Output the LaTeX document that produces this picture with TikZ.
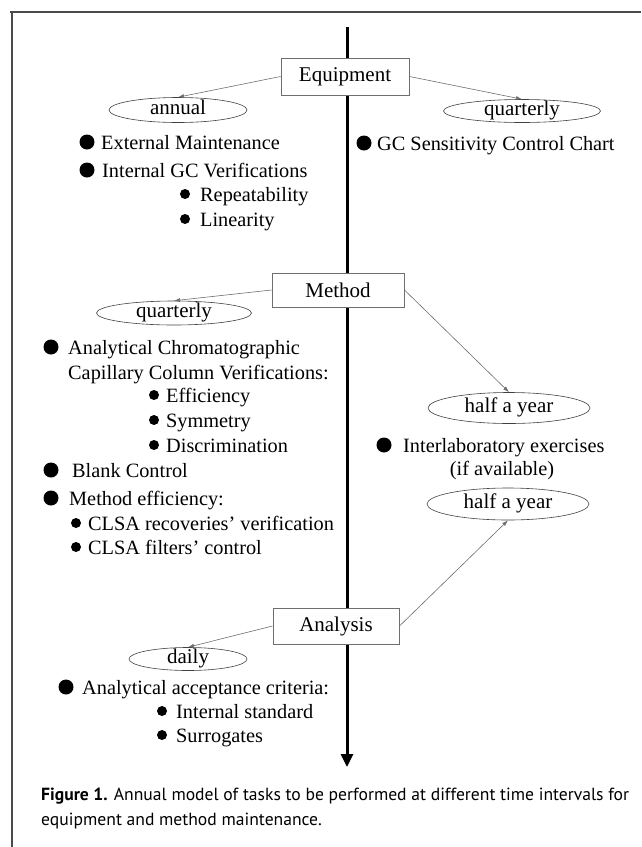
\documentclass[tikz,border=0pt]{standalone}
\usepackage{fontspec}
\setmainfont{Liberation Serif}
\newfontfamily\capfont{PT Sans}
\usetikzlibrary{arrows.meta,shapes.geometric}
\definecolor{frameGray}{HTML}{4A4A4A}
\definecolor{lineGray}{HTML}{6E6E6E}
\tikzset{
  stagebox/.style={draw=lineGray, line width=1pt, fill=white, inner sep=0pt,
    minimum height=35pt, font=\fontsize{21}{25}\selectfont},
  period/.style={ellipse, draw=black!75, line width=0.6pt, inner sep=0pt,
    text height=12pt, text depth=4pt, font=\fontsize{21}{25}\selectfont},
  conn/.style={draw=lineGray, line width=0.6pt, -{Latex[length=6pt,width=4pt]}},
  item/.style={anchor=base west, inner sep=0pt, font=\fontsize{20.3}{24}\selectfont},
  capline/.style={anchor=base west, inner sep=0pt, font=\capfont\fontsize{17.6}{21}\selectfont},
}

\begin{document}
\begin{tikzpicture}[x=1pt,y=-1pt]
  \useasboundingbox (0,0) rectangle (641,847);
  % frame
  \draw[frameGray, line width=2pt] (10,12) -- (641,12);
  \draw[frameGray, line width=2pt] (12,12) -- (12,847);

  % time axis
  \coordinate (axisTop) at (347,27);
  \coordinate (axisEnd) at (347,767);
  \draw[line width=3pt, -{Triangle[length=13pt,width=12pt]}] (axisTop) -- (axisEnd);

  % stages
  \node[stagebox, minimum width=128pt, minimum height=37pt] (equip) at (345,76.5) {Equipment};
  \node[stagebox, minimum width=132pt, minimum height=34pt] (method) at (338,290) {Method};
  \node[stagebox, minimum width=126pt, minimum height=36pt] (analysis) at (336,626) {Analysis};

  % periods
  \node[period, minimum width=138pt, minimum height=25pt] (annual) at (178,110) {annual};
  \node[period, minimum width=157pt, minimum height=23pt] (quartA) at (522,111) {quarterly};
  \node[period, minimum width=155pt, minimum height=24pt] (quartB) at (174,313) {quarterly};
  \node[period, minimum width=162pt, minimum height=31pt] (halfA) at (509,408) {half a year};
  \node[period, minimum width=162pt, minimum height=32pt] (halfB) at (508,504) {half a year};
  \node[period, minimum width=118pt, minimum height=23pt] (daily) at (188,659) {daily};

  \draw[conn] (equip.west) -- (annual.north);
  \draw[conn] (equip.east) -- (quartA.north);
  \draw[conn] (method.west) -- (quartB.north);
  \draw[conn] (method.east) -- (halfA.north);
  \draw[conn] (analysis.east) -- (halfB.south);
  \draw[conn] (analysis.west) -- (daily.north);

  % equipment tasks
  \fill (87,142) circle (7.5);
  \node[item] (extMaint) at (101,149) {External Maintenance};
  \fill (87,170) circle (7.5);
  \node[item] (intGC) at (102,177) {Internal GC Verifications};
  \fill (185,194) circle (5);
  \node[item] (repeat) at (200,201) {Repeatability};
  \fill (185,219) circle (5);
  \node[item] (linear) at (200,226) {Linearity};
  \fill (364,143) circle (7.5);
  \node[item] (gcSens) at (377,150) {GC Sensitivity Control Chart};

  % method tasks
  \fill (51,347) circle (7.5);
  \node[item] (chrom) at (68,354) {Analytical Chromatographic};
  \node[item] (capil) at (68,379) {Capillary Column Verifications:};
  \fill (154,395) circle (5);
  \node[item] (effic) at (166,402) {Efficiency};
  \fill (154,420) circle (5);
  \node[item] (symm) at (166,427) {Symmetry};
  \fill (154,445) circle (5);
  \node[item] (discr) at (166,452) {Discrimination};
  \fill (51,470) circle (7.5);
  \node[item] (blank) at (72,477) {Blank Control};
  \fill (51,498) circle (7.5);
  \node[item] (methEff) at (69,505) {Method efficiency:};
  \fill (76,523) circle (5);
  \node[item] (recov) at (88,530) {CLSA recoveries’ verification};
  \fill (76,547) circle (5);
  \node[item] (filt) at (88,554) {CLSA filters’ control};
  \fill (384,445) circle (7.5);
  \node[item] (interlab) at (403,452) {Interlaboratory exercises};
  \node[item, anchor=base] (ifAvail) at (502,475) {(if available)};

  % analysis tasks
  \fill (66,687) circle (7.5);
  \node[item] (accept) at (82,694) {Analytical acceptance criteria:};
  \fill (162,711) circle (5);
  \node[item] (intStd) at (176,718) {Internal standard};
  \fill (162,735) circle (5);
  \node[item] (surr) at (176,742) {Surrogates};

  % caption
  \node[capline] (cap1) at (41,800) {\textbf{Figure 1.} Annual model of tasks to be performed at different time intervals for};
  \node[capline] (cap2) at (41,825) {equipment and method maintenance.};
\end{tikzpicture}
\end{document}
